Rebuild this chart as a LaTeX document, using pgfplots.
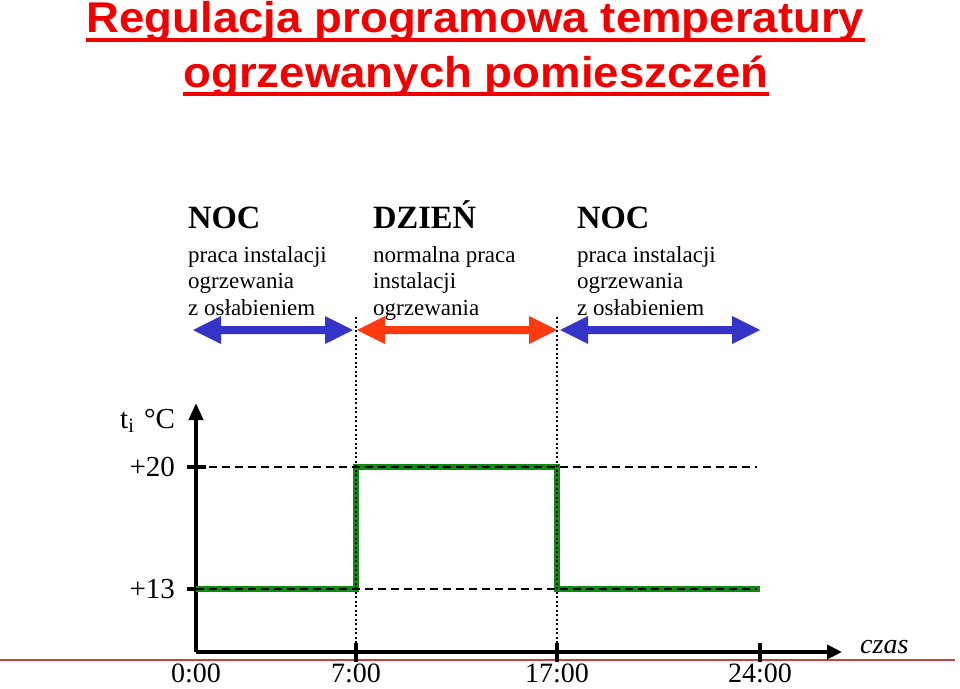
\documentclass[border=0pt]{standalone}
\usepackage{fontspec}
\setmainfont{Liberation Serif}
\newfontfamily\titlefam[FakeStretch=1.06]{Liberation Sans}
\usepackage{pgfplots}
\pgfplotsset{compat=1.18}
\usetikzlibrary{arrows.meta}
\definecolor{titlered}{HTML}{F20000}
\definecolor{arrblue}{HTML}{3434C8}
\definecolor{arrred}{HTML}{FF3A10}
\definecolor{stepgreen}{HTML}{108A10}
\definecolor{redline}{HTML}{C84040}
\begin{document}
\begin{tikzpicture}
% decorative layer in pixel units (1px = 1pt)
\begin{axis}[name=deco, at={(0,0)}, anchor=south west, scale only axis,
  width=960pt, height=688pt, xmin=0, xmax=960, ymin=0, ymax=688,
  y dir=reverse, hide axis, clip=false]
  \coordinate (BL) at (axis cs:0,688);
  \coordinate (TR) at (axis cs:960,0);
  \coordinate (O) at (axis cs:196,652);
  % title
  \node[anchor=base, inner sep=0pt, text=titlered, font=\titlefam\bfseries\fontsize{43}{50}\selectfont] (t1) at (axis cs:475.5,33) {Regulacja programowa temperatury};
  \node[anchor=base, inner sep=0pt, text=titlered, font=\titlefam\bfseries\fontsize{43}{50}\selectfont] (t2) at (axis cs:476,87) {ogrzewanych pomieszcze\'n};
  \draw[titlered, line width=4pt] ([yshift=-7pt]t1.base west) -- ([yshift=-7pt]t1.base east);
  \draw[titlered, line width=4pt] ([yshift=-7pt]t2.base west) -- ([yshift=-7pt]t2.base east);
  % text blocks
  \tikzset{hd/.style={anchor=base west, inner sep=0pt, font=\bfseries\fontsize{32.5}{36}\selectfont},
           bd/.style={anchor=base west, inner sep=0pt, font=\fontsize{23}{26}\selectfont}}
  \node[hd] at (axis cs:188,228) {NOC};
  \node[bd] at (axis cs:188,262) {praca instalacji};
  \node[bd] at (axis cs:188,288) {ogrzewania};
  \node[bd] at (axis cs:188,315) {z osłabieniem};
  \node[hd] at (axis cs:373,228) {DZIEŃ};
  \node[bd] at (axis cs:373,262) {normalna praca};
  \node[bd] at (axis cs:373,288) {instalacji};
  \node[bd] at (axis cs:373,315) {ogrzewania};
  \node[hd] at (axis cs:577,228) {NOC};
  \node[bd] at (axis cs:577,262) {praca instalacji};
  \node[bd] at (axis cs:577,288) {ogrzewania};
  \node[bd] at (axis cs:577,315) {z osłabieniem};
  % double arrows
  \fill[arrblue] (axis cs:193,330) -- (axis cs:221,316) -- (axis cs:221,326) -- (axis cs:325,326) -- (axis cs:325,316) -- (axis cs:353,330) -- (axis cs:325,344) -- (axis cs:325,334) -- (axis cs:221,334) -- (axis cs:221,344) -- cycle;
  \fill[arrred] (axis cs:357,330) -- (axis cs:385,316) -- (axis cs:385,326) -- (axis cs:529,326) -- (axis cs:529,316) -- (axis cs:557,330) -- (axis cs:529,344) -- (axis cs:529,334) -- (axis cs:385,334) -- (axis cs:385,344) -- cycle;
  \fill[arrblue] (axis cs:560,330) -- (axis cs:588,316) -- (axis cs:588,326) -- (axis cs:732,326) -- (axis cs:732,316) -- (axis cs:760,330) -- (axis cs:732,344) -- (axis cs:732,334) -- (axis cs:588,334) -- (axis cs:588,344) -- cycle;
  % labels
  \node[anchor=base west, inner sep=0pt, font=\fontsize{29}{30}\selectfont] at (axis cs:120,428) {t\textsubscript{i}\,\,°C};
  \node[anchor=base west, inner sep=0pt, font=\itshape\fontsize{28}{30}\selectfont] at (axis cs:860,653) {czas};
  \draw[redline, line width=1.5pt] (axis cs:0,660) -- (axis cs:955,660);
\end{axis}
% data layer
\begin{axis}[at={(O)}, anchor=south west, scale only axis,
  width=646pt, height=249pt, xmin=0, xmax=646, ymin=9.386, ymax=23.67,
  axis lines=left, axis line style={line width=4pt, black},
  every outer x axis line/.append style={-{Triangle[length=15pt,width=14pt]}},
  every outer y axis line/.append style={-{Triangle[length=17pt,width=14pt]}},
  xtick={160,361,564}, xticklabels={7:00,17:00,24:00},
  extra x ticks={0}, extra x tick labels={0:00},
  extra x tick style={tick style={draw=none}},
  ytick={13,20}, yticklabels={+13,+20},
  tick align=center, major tick length=19pt,
  tick style={line width=4pt, black},
  ticklabel style={font=\fontsize{29}{30}\selectfont},
  xticklabel style={inner sep=0pt, yshift=-2pt, font=\fontsize{28}{30}\selectfont},
  yticklabel style={xshift=-8pt},
  clip=false]
  \addplot[const plot, stepgreen, line width=6.5pt] coordinates {(0,13) (160,20) (361,13) (564,13)};
  \addplot[black, line width=1.5pt, dash pattern=on 8pt off 5pt] coordinates {(0,20) (561,20)};
  \addplot[black, line width=1.5pt, dash pattern=on 8pt off 5pt] coordinates {(0,13) (561,13)};
  \addplot[black, line width=2pt, dash pattern=on 2pt off 2.5pt] coordinates {(160,9.386) (160,28.66)};
  \addplot[black, line width=2pt, dash pattern=on 2pt off 2.5pt] coordinates {(361,9.386) (361,28.66)};
\end{axis}
\pgfresetboundingbox
\path (BL) rectangle (TR);
\end{tikzpicture}
\end{document}
